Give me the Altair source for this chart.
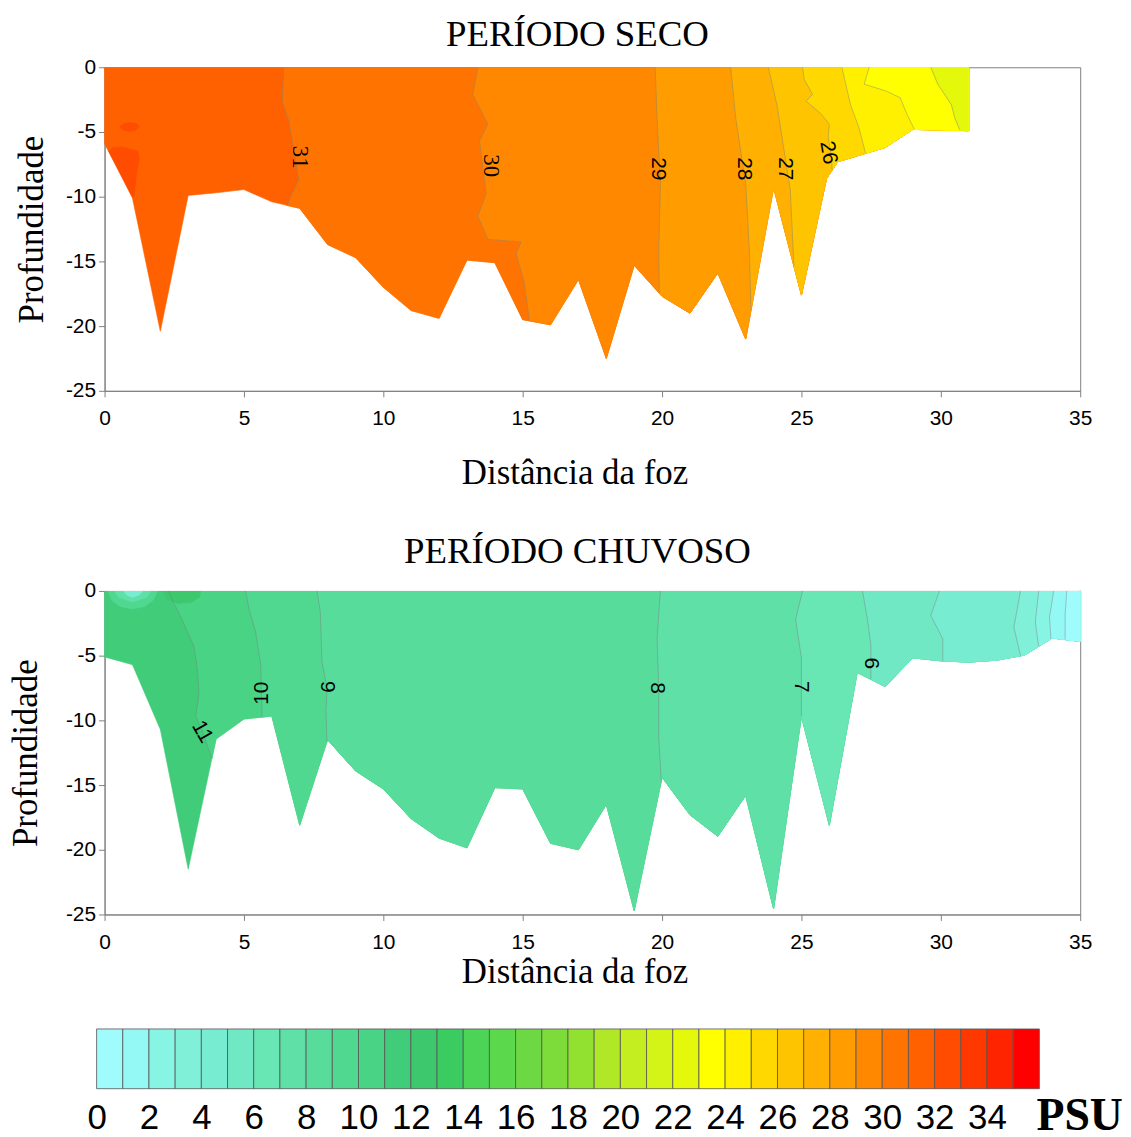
import altair as alt
import numpy as np
import pandas as pd

SERIF = "Liberation Serif"
SANS = "Liberation Sans"

# 36 colour classes of the PSU scale (cell i covers [i, i+1))
PALETTE = ["#a0fcfc", "#94f8f4", "#88f4e4", "#80f0d8", "#78ecd0", "#70e8c4",
           "#68e6b4", "#5ee0a6", "#58dc9c", "#50d890", "#48d484", "#40cc78",
           "#3ec86e", "#3acc60", "#4cd456", "#5cd84c", "#6cd844", "#7edc3a",
           "#92e030", "#b0e828", "#c4ee20", "#d4f418", "#e4f80c", "#ffff00",
           "#fff000", "#ffd800", "#ffc400", "#ffb000", "#ff9c00", "#ff8800",
           "#ff7400", "#ff6000", "#ff4c00", "#ff3800", "#ff2400", "#ff0000"]

X_TICKS = [0, 5, 10, 15, 20, 25, 30, 35]
Y_TICKS = [0, -5, -10, -15, -20, -25]
CB_TICKS = list(range(0, 35, 2))

# ---------------- PERÍODO SECO ----------------
SECO_DIST = [0, 1, 2, 3, 4, 5, 6, 7, 8, 9, 10, 11, 12, 13, 14, 15, 16, 17, 18,
             19, 20, 21, 22, 23, 24, 25, 25.9, 26.3, 28, 29, 31]
SECO_DEPTH = [-5.9, -10.1, -20.4, -9.9, -9.7, -9.45, -10.4, -10.9, -13.7, -14.7,
              -17.0, -18.8, -19.4, -14.9, -15.1, -19.5, -19.9, -16.4, -22.5,
              -15.3, -17.7, -19.0, -15.9, -21.0, -9.3, -17.6, -8.6, -7.3, -6.2,
              -4.8, -4.9]
SECO_LEVELS = [31, 30, 29, 28, 27, 26, 25, 24, 23]
SECO_ISO_X = [
    [6.43, 6.37, 6.6, 6.79, 6.96, 6.67, 6.55],
    [13.39, 13.21, 13.75, 13.45, 13.57, 13.69, 13.39, 13.75, 14.94, 14.76, 15.06, 15.24],
    [19.75, 19.82, 19.94, 19.88, 19.9],
    [22.46, 22.64, 23.0, 23.13, 23.19],
    [23.81, 24.12, 24.6, 24.73],
    [25.04, 25.1, 25.4, 25.16, 25.7, 26.0, 25.96, 26.08, 26.1],
    [26.45, 26.76, 27.06, 27.3],
    [27.43, 27.25, 28.05, 28.54, 28.78, 29.05],
    [29.64, 29.89, 30.38, 30.5, 30.69],
]
SECO_ISO_Y = [
    [0, -2.6, -4.1, -6.4, -8.7, -10.0],
    [0, -2.1, -4.4, -5.7, -7.7, -9.75, -11.5, -13.3, -13.5, -14.4, -16.65],
    [0, -3.9, -9.0, -14.1],
    [0, -3.9, -9.0, -14.1],
    [0, -2.9, -9.5],
    [0, -0.95, -2.1, -2.6, -3.6, -4.4, -5.4, -7.0],
    [0, -2.9, -4.65],
    [0, -1.3, -1.85, -2.35, -3.6],
    [0, -1.3, -2.9, -3.9],
]
SECO_LEFT_CELL = 31
SECO_PATCH_CELL = [32, 32]
SECO_PATCH_X = [[0.14, 0.3, 0.65, 1.2, 1.25, 1.15, 1.05, 1.0],
                [0.55, 0.7, 0.9, 1.15, 1.25, 1.1, 0.9, 0.65]]
SECO_PATCH_Y = [[-6.49, -6.2, -6.15, -6.5, -7.0, -8.2, -10.0, -10.05],
                [-4.6, -4.35, -4.28, -4.35, -4.6, -4.88, -4.95, -4.85]]
SECO_LABEL_TEXT = ["31", "30", "29", "28", "27", "26"]
SECO_LABEL_X = [7.0, 13.86, 19.84, 22.95, 24.4, 25.96]
SECO_LABEL_Y = [-6.95, -7.6, -7.85, -7.85, -7.85, -6.6]
SECO_LABEL_ANGLE = [90, 90, 90, 90, 90, 80]
SECO_LABEL_SERIF = [True, True, False, False, False, False]

# ---------------- PERÍODO CHUVOSO ----------------
CHUV_DIST = [0, 1, 2, 3, 4, 5, 6, 7, 8, 9, 10, 11, 12, 13, 14, 15, 16, 17, 18,
             19, 20, 21, 22, 23, 24, 25, 26, 27, 28, 29, 30, 31, 32, 33, 34, 35]
CHUV_DEPTH = [-5.1, -5.7, -10.7, -21.5, -11.45, -9.9, -9.67, -18.1, -11.5, -13.9,
              -15.3, -17.6, -19.1, -19.85, -15.2, -15.3, -19.5, -20.0, -16.5,
              -24.7, -14.4, -17.3, -18.96, -15.8, -24.55, -9.67, -18.1, -6.3,
              -7.38, -5.17, -5.4, -5.5, -5.35, -4.96, -3.64, -3.9]
CHUV_LEVELS = [11, 10, 9, 8, 7, 6, 5, 4, 3, 2, 1]
CHUV_ISO_X = [
    [2.3, 2.5, 2.8, 3.21, 3.33, 3.39, 3.27, 3.5, 3.85],
    [5.06, 5.18, 5.42, 5.6, 5.63, 5.65],
    [7.62, 7.74, 7.8, 7.98, 7.94, 7.98],
    [19.94, 19.82, 19.88, 19.88, 19.97],
    [25.04, 24.79, 25.0, 25.0, 25.0],
    [27.19, 27.37, 27.49, 27.49],
    [29.95, 29.64, 30.07, 30.07],
    [32.86, 32.62, 32.86],
    [33.51, 33.39, 33.51],
    [34.05, 33.9, 33.95],
    [34.52, 34.46, 34.46],
]
CHUV_ISO_Y = [
    [0, -1.0, -2.3, -4.3, -6.1, -7.9, -9.7, -10.8],
    [0, -1.4, -3.2, -5.7, -8.0],
    [0, -1.65, -5.5, -7.5, -9.3],
    [0, -3.7, -7.5, -11.3],
    [0, -2.2, -5.2, -8.0],
    [0, -2.2, -4.2],
    [0, -1.9, -3.7],
    [0, -2.8],
    [0, -2.4],
    [0, -2.0],
    [0, -1.8],
]
CHUV_LEFT_CELL = 11
CHUV_PATCH_CELL = [12, 9, 7, 4]
CHUV_PATCH_X = [[2.1, 2.2, 2.6, 3.1, 3.4, 3.45],
                [0.12, 0.25, 0.55, 1.0, 1.45, 1.75, 1.9],
                [0.36, 0.5, 1.0, 1.5, 1.67],
                [0.68, 0.78, 1.0, 1.25, 1.39]]
CHUV_PATCH_Y = [[0, -0.6, -0.95, -0.9, -0.5, 0],
                [0, -0.7, -1.2, -1.4, -1.2, -0.7, 0],
                [0, -0.5, -0.85, -0.5, 0],
                [0, -0.3, -0.5, -0.3, 0]]
CHUV_LABEL_TEXT = ["11", "10", "9", "8", "7", "6"]
CHUV_LABEL_X = [3.5, 5.65, 7.98, 19.8, 24.98, 27.5]
CHUV_LABEL_Y = [-10.9, -7.9, -7.4, -7.5, -7.4, -5.6]
CHUV_LABEL_ANGLE = [60, 270, 90, 90, 90, 90]
CHUV_LABEL_SERIF = [False] * 6


def build_polygons(dist, depth, levels, iso_x, iso_y, left_cell,
                   patch_cells, patch_x, patch_y):
    dist = np.asarray(dist, float)
    depth = np.asarray(depth, float)
    x_end = float(dist[-1])
    polys = []
    xs = [float(dist[0])] + list(dist) + [x_end]
    ys = [0.0] + list(depth) + [0.0]
    polys.append((PALETTE[left_cell], xs, ys))
    lines = []
    for lev, ix, iy in zip(levels, iso_x, iso_y):
        xb = float(ix[-1])
        yb = float(np.interp(xb, dist, depth))
        lx = [float(v) for v in ix]
        ly = [float(v) for v in iy] + [yb]
        mask = dist > xb
        xs = lx + list(dist[mask]) + [x_end]
        ys = ly + list(depth[mask]) + [0.0]
        polys.append((PALETTE[lev - 1], xs, ys))
        lines.append((lev, lx, ly))
    for c, px, py in zip(patch_cells, patch_x, patch_y):
        polys.append((PALETTE[c], list(px), list(py)))
    return polys, lines


def panel(title, title_offset, dist, depth, levels, iso_x, iso_y, left_cell,
          patch_cells, patch_x, patch_y, lab_t, lab_x, lab_y, lab_a, lab_serif,
          xtitle_y, ytitle_x):
    polys, lines = build_polygons(dist, depth, levels, iso_x, iso_y, left_cell,
                                  patch_cells, patch_x, patch_y)
    x_enc = alt.X("x:Q",
                  scale=alt.Scale(domain=[0, 35], nice=False, zero=False),
                  axis=alt.Axis(values=X_TICKS, labelExpr="'' + datum.value",
                                labelFlush=False, labelOverlap=False,
                                labelPadding=11, title="Distância da foz",
                                titleX=472, titleY=xtitle_y, titleAlign="center",
                                titleBaseline="alphabetic"))
    y_enc = alt.Y("y:Q",
                  scale=alt.Scale(domain=[-25, 0], nice=False, zero=False),
                  axis=alt.Axis(values=Y_TICKS, labelExpr="'' + datum.value",
                                labelFlush=False, labelOverlap=False,
                                labelPadding=3, title="Profundidade",
                                titleAngle=270, titleX=ytitle_x,
                                titleAlign="center", titleBaseline="alphabetic"))
    layers = []
    for color, xs, ys in polys:
        df = pd.DataFrame({"x": xs, "y": ys, "i": range(len(xs))})
        layers.append(
            alt.Chart(df).mark_line(fill=color, stroke=color, strokeWidth=0.6)
            .encode(x=x_enc, y=y_enc, order="i:Q"))
    rows = []
    for lev, lx, ly in lines:
        for k, (a, b) in enumerate(zip(lx, ly)):
            rows.append({"x": a, "y": b, "lev": lev, "i": k})
    layers.append(
        alt.Chart(pd.DataFrame(rows))
        .mark_line(stroke="#7a7a7a", strokeWidth=0.8, strokeOpacity=0.55)
        .encode(x=x_enc, y=y_enc, detail="lev:N", order="i:Q"))
    lab = pd.DataFrame({"t": lab_t, "x": lab_x, "y": lab_y, "a": lab_a,
                        "serif": lab_serif})
    for is_serif, font, size in [(True, SERIF, 23), (False, SANS, 21)]:
        sub = lab[lab["serif"] == is_serif]
        if len(sub):
            layers.append(
                alt.Chart(sub).mark_text(font=font, fontSize=size, color="black",
                                         align="center", baseline="middle")
                .encode(x=x_enc, y=y_enc, text="t:N",
                        angle=alt.Angle("a:Q", scale=None)))
    return alt.layer(*layers).properties(
        width=980, height=325,
        title=alt.TitleParams(title, font=SERIF, fontSize=37,
                              fontWeight="normal", color="black",
                              anchor="middle", frame="group", dx=-15,
                              offset=title_offset, baseline="alphabetic"))


top = panel("PERÍODO SECO", -27, SECO_DIST, SECO_DEPTH, SECO_LEVELS, SECO_ISO_X,
            SECO_ISO_Y, SECO_LEFT_CELL, SECO_PATCH_CELL, SECO_PATCH_X,
            SECO_PATCH_Y, SECO_LABEL_TEXT, SECO_LABEL_X, SECO_LABEL_Y,
            SECO_LABEL_ANGLE, SECO_LABEL_SERIF, 93, -62)
bottom = panel("PERÍODO CHUVOSO", -20, CHUV_DIST, CHUV_DEPTH, CHUV_LEVELS,
               CHUV_ISO_X, CHUV_ISO_Y, CHUV_LEFT_CELL, CHUV_PATCH_CELL,
               CHUV_PATCH_X, CHUV_PATCH_Y, CHUV_LABEL_TEXT, CHUV_LABEL_X,
               CHUV_LABEL_Y, CHUV_LABEL_ANGLE, CHUV_LABEL_SERIF, 68, -68)

cb_df = pd.DataFrame({"lo": list(range(36)), "hi": list(range(1, 37)),
                      "col": PALETTE})
colorbar = alt.Chart(cb_df).mark_rect(stroke="#555555", strokeWidth=0.8).encode(
    x=alt.X("lo:Q", scale=alt.Scale(domain=[0, 36], range=[-8, 939], nice=False,
                                    zero=False),
            axis=alt.Axis(values=CB_TICKS, labelExpr="'' + datum.value",
                          domain=False, ticks=False, grid=False,
                          labelFont=SANS, labelFontSize=35, labelPadding=12,
                          labelFlush=False, labelOverlap=False,
                          title="PSU", titleFont=SERIF, titleFontSize=46,
                          titleFontWeight="bold", titleX=979, titleY=41,
                          titleAlign="center", titleBaseline="alphabetic")),
    x2="hi:Q",
    y=alt.value(0), y2=alt.value(60),
    color=alt.Color("col:N", scale=None),
).properties(width=980, height=60, view=alt.ViewBackground(stroke="transparent"))

lower = alt.vconcat(bottom, colorbar, spacing=38)
chart = alt.vconcat(top, lower, spacing=41).properties(
    padding={"left": 0, "top": 5, "right": 0, "bottom": 0}
).configure_axis(
    labelFont=SANS, labelFontSize=21, labelColor="black",
    domainColor="#808080", tickColor="#808080", tickSize=6, grid=False,
    titleFont=SERIF, titleFontSize=35, titleFontWeight="normal",
    titleColor="black",
).configure_view(stroke="#808080", strokeWidth=1)

chart.save("out.html", embed_options={"renderer": "svg", "actions": False})
